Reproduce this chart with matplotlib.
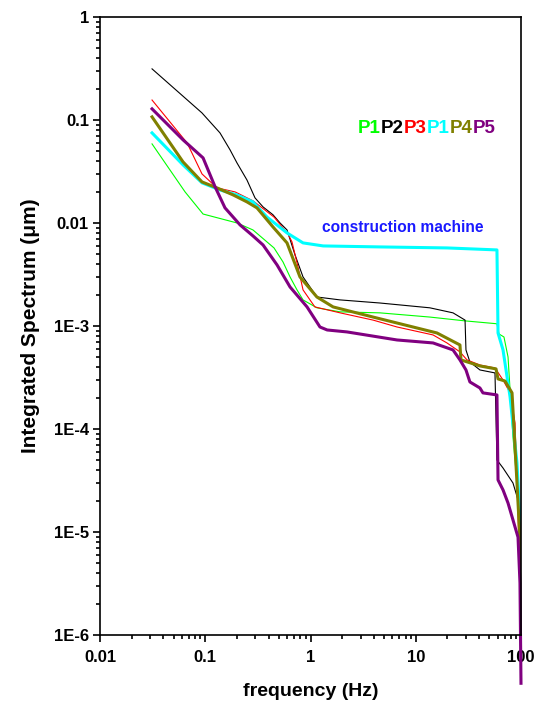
import matplotlib
matplotlib.use('Agg')
import matplotlib.pyplot as plt
from matplotlib.ticker import LogLocator, FixedFormatter, FixedLocator, NullFormatter

plt.rcParams['font.family'] = ['Liberation Sans', 'DejaVu Sans']
plt.rcParams['font.weight'] = 'bold'

# frequency (Hz) / integrated spectrum (um)
f_p1 = [0.0312, 0.0643, 0.0953, 0.200, 0.284, 0.450, 0.548, 0.639, 0.744, 0.849,
        1.15, 1.91, 4.57, 13.6, 29.4, 59.1, 61.8, 68.9, 75.3, 83.9, 91.6, 100]
v_p1 = [0.0585, 0.0200, 0.0122, 0.0100, 0.00855, 0.00572, 0.00418, 0.00299, 0.00224, 0.00179,
        0.00150, 0.00137, 0.00134, 0.00122, 0.00112, 0.00105, 0.000836, 0.000781, 0.000500, 8.4e-5, 3.0e-5, 5.3e-6]

f_p2 = [0.0312, 0.093, 0.138, 0.172, 0.200, 0.249, 0.297, 0.354, 0.440, 0.513, 0.598, 0.713, 0.849,
        1.15, 1.91, 4.57, 13.6, 22.6, 29.4, 30.0, 32.7, 40.7, 56.6, 59.1, 67.5, 83.9, 93.7, 97.8, 100]
v_p2 = [0.313, 0.117, 0.0748, 0.0512, 0.0383, 0.0261, 0.0175, 0.0143, 0.0120, 0.0100, 0.00855, 0.00489, 0.00299,
        0.00191, 0.00179, 0.00167, 0.00150, 0.00134, 0.00114, 0.000585, 0.000447, 0.000374, 0.000350, 5.0e-5,
        4.18e-5, 2.99e-5, 2.05e-5, 1.04e-5, 4.3e-6]

f_p3 = [0.0312, 0.0672, 0.0931, 0.129, 0.192, 0.284, 0.450, 0.611, 0.667, 0.760, 0.849, 1.10, 1.91,
        3.93, 6.64, 14.6, 19.8, 26.3, 30.7, 40.7, 56.6, 67.5, 78.7, 87.8, 93.7, 97.8]
v_p3 = [0.156, 0.0598, 0.0299, 0.0219, 0.0200, 0.0164, 0.0114, 0.00781, 0.00654, 0.00374, 0.00224, 0.00153, 0.00134,
        0.00114, 0.000977, 0.000818, 0.000684, 0.000560, 0.000468, 0.000418, 0.000391, 0.000299, 0.000224, 0.000114,
        1.4e-5, 3.2e-6]

f_cm = [0.0312, 0.0615, 0.0931, 0.138, 0.200, 0.284, 0.386, 0.598, 0.849, 1.32, 4.57, 19.8, 59.1,
        60.5, 67.5, 78.7, 91.6, 97.8, 100]
v_cm = [0.0748, 0.0366, 0.0245, 0.0209, 0.0187, 0.0160, 0.0114, 0.00800, 0.00640, 0.00598, 0.00585, 0.00572,
        0.00547, 0.000855, 0.000585, 0.000205, 4.68e-5, 1.3e-5, 2.2e-6]

f_p4 = [0.0312, 0.0615, 0.0931, 0.129, 0.184, 0.249, 0.310, 0.440, 0.598, 0.794, 1.15, 1.64, 3.93,
        9.42, 15.9, 26.3, 26.9, 40.7, 57.9, 60.5, 70.5, 82.2, 91.6, 97.8, 100]
v_p4 = [0.107, 0.0391, 0.0250, 0.0219, 0.0187, 0.0160, 0.0140, 0.00914, 0.00640, 0.00299, 0.00191, 0.00153,
        0.00122, 0.000977, 0.000855, 0.000654, 0.000468, 0.000409, 0.000383, 0.000306, 0.000292, 0.000224,
        3.0e-5, 8.4e-6, 2.2e-6]

f_p5 = [0.0312, 0.0615, 0.0953, 0.124, 0.154, 0.214, 0.284, 0.354, 0.481, 0.639, 0.927, 1.23, 1.44,
        2.22, 6.64, 14.6, 22.6, 26.3, 30.0, 32.7, 40.7, 43.5, 59.1, 60.5, 67.5, 75.3, 83.9, 93.7, 97.8, 100]
v_p5 = [0.128, 0.0640, 0.0428, 0.0224, 0.0140, 0.00957, 0.00748, 0.00611, 0.00391, 0.00239, 0.00153,
        0.000977, 0.000914, 0.000875, 0.000731, 0.000684, 0.000585, 0.000468, 0.000374, 0.000286, 0.000250,
        0.000224, 0.000214, 3.2e-5, 2.56e-5, 1.91e-5, 1.31e-5, 8.9e-6, 3.2e-6, 3.4e-7]

labels = ['P1', 'P2', 'P3', 'P1', 'P4', 'P5']
colors = ['#00ff00', '#000000', '#ff0000', '#00ffff', '#808000', '#800080']

y_ticks = [1e-6, 1e-5, 1e-4, 1e-3, 1e-2, 1e-1, 1]
y_ticklabels = ['1E-6', '1E-5', '1E-4', '1E-3', '0.01', '0.1', '1']
x_ticks = [0.01, 0.1, 1, 10, 100]
x_ticklabels = ['0.01', '0.1', '1', '10', '100']

fig = plt.figure(figsize=(5.46, 7.04), dpi=100)
ax = fig.add_axes([0.1832, 0.098, 0.771, 0.878])

ax.plot(f_p1, v_p1, color=colors[0], lw=0.8)
ax.plot(f_p2, v_p2, color=colors[1], lw=0.8)
ax.plot(f_p3, v_p3, color=colors[2], lw=0.8)
ax.plot(f_cm, v_cm, color=colors[3], lw=2.2)
ax.plot(f_p4, v_p4, color=colors[4], lw=2.2)
ax.plot(f_p5, v_p5, color=colors[5], lw=2.2, clip_on=False)

ax.set_xscale('log')
ax.set_yscale('log')
ax.set_xlim(0.01, 100)
ax.set_ylim(1e-6, 1)

ax.xaxis.set_major_locator(FixedLocator(x_ticks))
ax.xaxis.set_major_formatter(FixedFormatter(x_ticklabels))
ax.yaxis.set_major_locator(FixedLocator(y_ticks))
ax.yaxis.set_major_formatter(FixedFormatter(y_ticklabels))
ax.xaxis.set_minor_locator(LogLocator(base=10, subs=range(2, 10)))
ax.yaxis.set_minor_locator(LogLocator(base=10, subs=range(2, 10)))
ax.xaxis.set_minor_formatter(NullFormatter())
ax.yaxis.set_minor_formatter(NullFormatter())

ax.tick_params(which='both', direction='out', top=False, right=False, width=1.2, labelsize=12)
ax.tick_params(which='major', length=5, pad=3)
ax.tick_params(which='minor', length=3)
ax.tick_params(axis='x', which='major', pad=6)
for s in ax.spines.values():
    s.set_linewidth(1.2)

ax.set_xlabel('frequency (Hz)', fontsize=14, fontweight='bold', labelpad=13)
ax.set_ylabel('Integrated Spectrum (\u03bcm)', fontsize=15, fontweight='bold', labelpad=10)

# coloured legend text, one piece after another
t = ax.text(0.613, 0.812, labels[0], color=colors[0], fontsize=13.5, fontweight='bold',
            transform=ax.transAxes)
for lab, c in zip(labels[1:], colors[1:]):
    t = ax.annotate(lab, xy=(1, 0), xycoords=t, color=c, fontsize=13.5, fontweight='bold',
                    va='bottom', ha='left')

ax.text(0.527, 0.659, 'construction machine', color='#1a1aff', fontsize=11.2, fontweight='bold',
        transform=ax.transAxes, va='center')

fig.savefig('out.png', dpi=100)
